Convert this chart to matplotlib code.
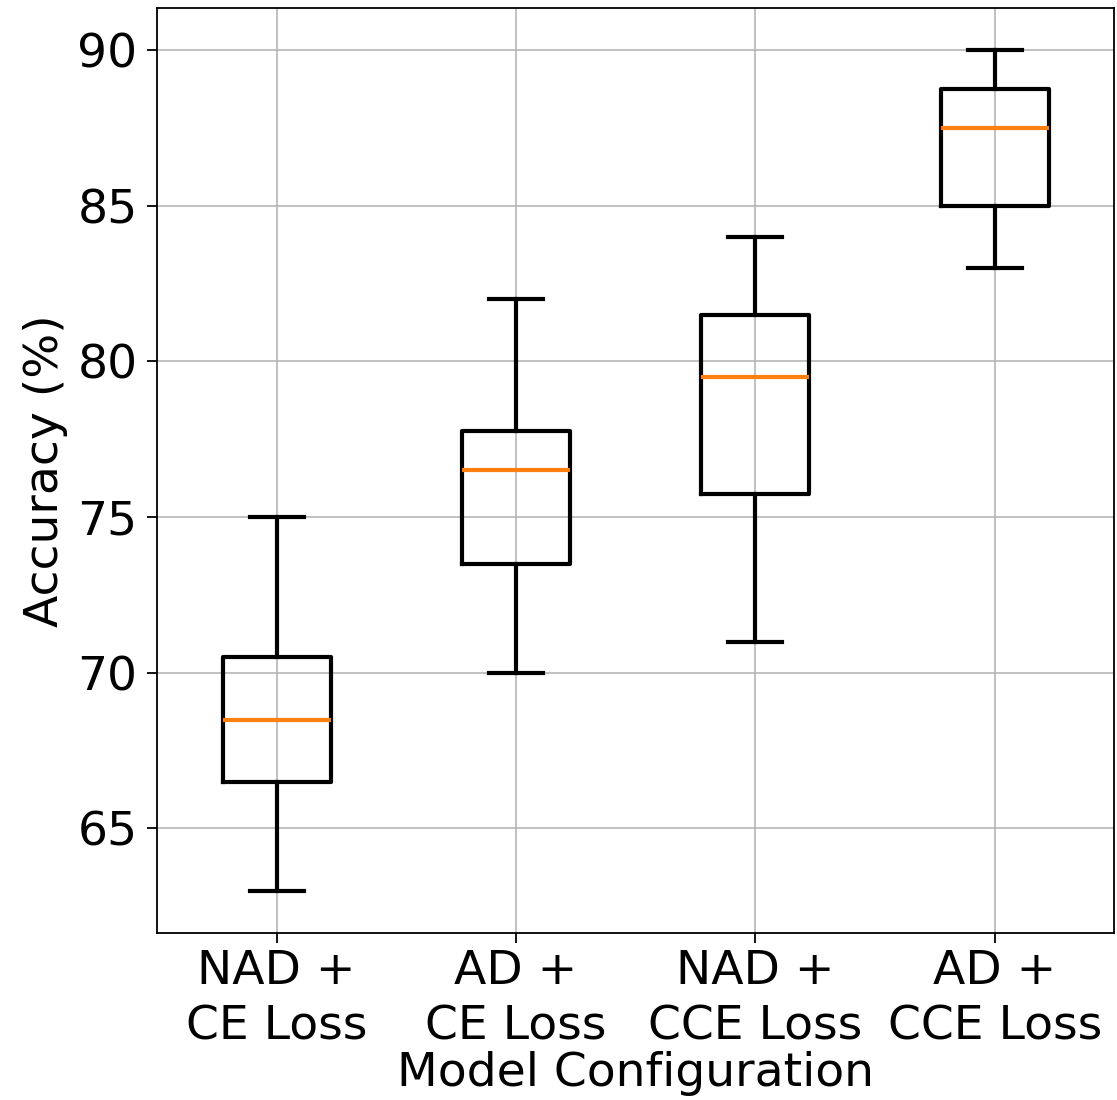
import matplotlib
matplotlib.use('Agg')
import matplotlib.pyplot as plt

labels = ['NAD +\nCE Loss', 'AD +\nCE Loss', 'NAD +\nCCE Loss', 'AD +\nCCE Loss']
whislo = [63, 70, 71, 83]
q1 = [66.5, 73.5, 75.75, 85]
med = [68.5, 76.5, 79.5, 87.5]
q3 = [70.5, 77.75, 81.5, 88.75]
whishi = [75, 82, 84, 90]

stats = []
for i in range(len(labels)):
    stats.append({'label': labels[i], 'whislo': whislo[i], 'q1': q1[i], 'med': med[i],
                  'q3': q3[i], 'whishi': whishi[i], 'fliers': []})

plt.rcParams['font.size'] = 34

fig = plt.figure(figsize=(11.17, 11), dpi=100)
ax = fig.add_axes([0.1406, 0.152, 0.857, 0.8407])

lw = 3
ax.bxp(stats, widths=0.45,
       boxprops=dict(linewidth=lw, color='black'),
       whiskerprops=dict(linewidth=lw, color='black'),
       capprops=dict(linewidth=lw, color='black'),
       medianprops=dict(linewidth=lw, color='#ff7f0e'))

ax.set_ylim(61.65, 91.35)
ax.set_yticks([65, 70, 75, 80, 85, 90])
ax.grid(True, linewidth=1.1)
ax.set_axisbelow(True)
for s in ax.spines.values():
    s.set_linewidth(1.3)
ax.tick_params(axis='both', length=7, width=1.3)
ax.tick_params(axis='y', pad=7)
ax.tick_params(axis='x', pad=5)
for lbl in ax.get_xticklabels():
    lbl.set_linespacing(1.3)
ax.set_xlabel('Model Configuration', labelpad=1)
ax.set_ylabel('Accuracy (%)', labelpad=7)

fig.savefig('out.png', dpi=100)
